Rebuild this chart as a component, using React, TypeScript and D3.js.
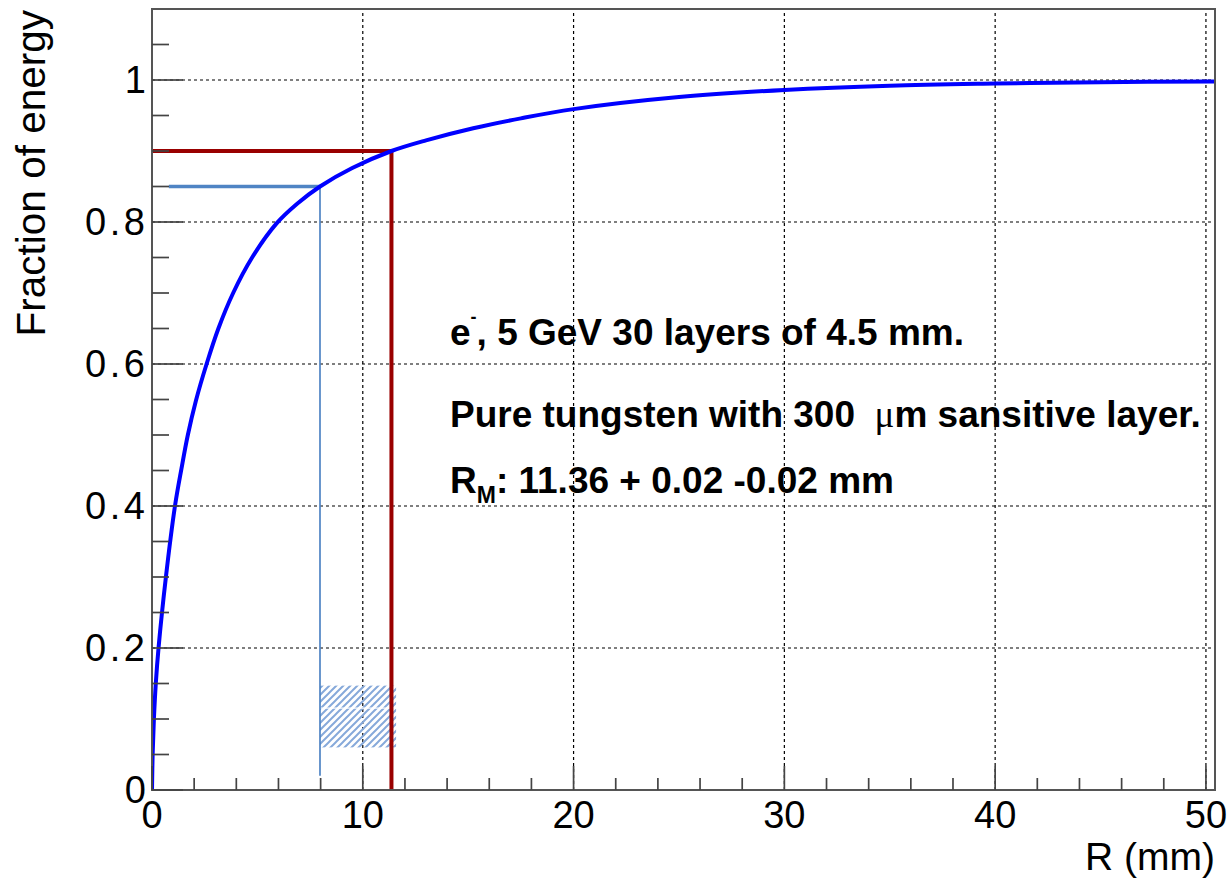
import React from "react";
import * as d3 from "d3";

// Radial energy containment: cumulative fraction of shower energy inside radius R
const radiusMm = [0, 0.03, 0.09, 0.18, 0.31, 0.66, 1.09, 1.4, 1.7, 2.08, 2.59, 3.15, 3.85, 4.75, 5.91, 6.9, 7.97, 9.5, 11.36, 13.0, 15.24, 17.5, 20.0, 25.0, 30.0, 35.0, 40.0, 45.0, 50.43];
const energyFraction = [0, 0.05, 0.1, 0.15, 0.2, 0.3, 0.4, 0.453, 0.5, 0.548, 0.6, 0.65, 0.7, 0.75, 0.798, 0.826, 0.85, 0.876, 0.9, 0.915, 0.932, 0.946, 0.959, 0.976, 0.986, 0.992, 0.995, 0.997, 0.998];

// Moliere radius (90 % containment) and the 85 % reference marker
const moliereRadius = 11.36;
const moliereFraction = 0.9;
const refRadius = 7.97;
const refFraction = 0.85;
const refLineStart = 0.8;
const refLineEnd = 0.02;

// Hatched uncertainty boxes [r0, r1, f0, f1]
const hatchBoxes = [
  [7.97, 11.58, 0.06, 0.1145],
  [7.97, 11.58, 0.1162, 0.147],
];

// Axis ranges and tick labels
const xDomain = [0, 50.43];
const yDomain = [0, 1.1];
const xMajorTicks = [0, 10, 20, 30, 40, 50];
const yMajorTicks = [0, 0.2, 0.4, 0.6, 0.8, 1];
const yTickLabels = ["0", "0.2", "0.4", "0.6", "0.8", "1"];

const FONT = "'Liberation Sans', Arial, Helvetica, sans-serif";

export default function App() {
  const W = 1229;
  const H = 879;
  const left = 152;
  const right = 1215;
  const top = 9;
  const bottom = 790;

  const x = d3.scaleLinear().domain(xDomain).range([left, right]);
  const y = d3.scaleLinear().domain(yDomain).range([bottom, top]);

  const line = d3
    .line<number>()
    .x((_, i) => x(radiusMm[i]))
    .y((d) => y(d))
    .curve(d3.curveCatmullRom.alpha(0.5));
  const curvePath = line(energyFraction) || "";

  const xMinor = d3.range(0, 50.01, 2);
  const yMinor = d3.range(0, 1.1001, 0.05).filter((v) => v < 1.099);
  const isMajorX = (v: number) => Math.abs(v / 10 - Math.round(v / 10)) < 1e-6;
  const isMajorY = (v: number) => Math.abs(v / 0.2 - Math.round(v / 0.2)) < 1e-6;

  const tickColor = "#444";
  const gridDash = "3,3";

  return (
    <svg
      width={W}
      height={H}
      viewBox={`0 0 ${W} ${H}`}
      style={{ position: "absolute", left: 0, top: 0, background: "#fff" }}
    >
      <defs>
        <pattern id="hatch" patternUnits="userSpaceOnUse" width={7} height={7}>
          <path d="M-2,2 L2,-2 M0,7 L7,0 M5,9 L9,5" stroke="#86a9da" strokeWidth={2} />
        </pattern>
        <clipPath id="plotClip">
          <rect x={left} y={top} width={right - left} height={bottom - top} />
        </clipPath>
      </defs>
      <rect x={0} y={0} width={W} height={H} fill="#fff" />

      {/* grid */}
      <g stroke="#000" strokeWidth={1.2} strokeDasharray={gridDash}>
        {xMajorTicks.filter((v) => v > 0).map((v) => (
          <line key={"gx" + v} x1={x(v)} x2={x(v)} y1={bottom} y2={top} />
        ))}
        {yMajorTicks.filter((v) => v > 0).map((v) => (
          <line key={"gy" + v} x1={left} x2={right} y1={y(v)} y2={y(v)} />
        ))}
      </g>

      {/* hatched boxes */}
      {hatchBoxes.map((b, i) => (
        <rect
          key={"hb" + i}
          x={x(b[0])}
          y={y(b[3])}
          width={x(b[1]) - x(b[0])}
          height={y(b[2]) - y(b[3])}
          fill="url(#hatch)"
        />
      ))}

      {/* 85 % reference marker */}
      <line
        x1={x(refLineStart)}
        x2={x(refRadius)}
        y1={y(refFraction)}
        y2={y(refFraction)}
        stroke="#4f84c4"
        strokeWidth={3.3}
      />
      <line
        x1={x(refRadius)}
        x2={x(refRadius)}
        y1={y(refFraction)}
        y2={y(refLineEnd)}
        stroke="#4f84c4"
        strokeWidth={1.7}
      />

      {/* Moliere radius marker */}
      <path
        d={`M${x(0)},${y(moliereFraction)} H${x(moliereRadius)} V${y(0)}`}
        fill="none"
        stroke="#990000"
        strokeWidth={4}
      />

      {/* containment curve */}
      <path
        d={curvePath}
        fill="none"
        stroke="#0000ff"
        strokeWidth={4}
        clipPath="url(#plotClip)"
      />

      {/* frame */}
      <rect
        x={left}
        y={top}
        width={right - left}
        height={bottom - top}
        fill="none"
        stroke="#555"
        strokeWidth={2}
      />

      {/* ticks */}
      <g stroke={tickColor} strokeWidth={1.7}>
        {xMinor.map((v) => (
          <line key={"tx" + v} x1={x(v)} x2={x(v)} y1={bottom} y2={bottom - (isMajorX(v) ? 24 : 12)} />
        ))}
        {yMinor.map((v) => (
          <line key={"ty" + v.toFixed(2)} x1={left} x2={left + (isMajorY(v) ? 31 : 17)} y1={y(v)} y2={y(v)} />
        ))}
      </g>

      {/* tick labels */}
      <g fontFamily={FONT} fontSize={38} fill="#000">
        {xMajorTicks.map((v) => (
          <text key={"lx" + v} x={x(v)} y={828} textAnchor="middle">
            {String(v)}
          </text>
        ))}
        {yMajorTicks.map((v, i) => {
          const label = yTickLabels[i];
          const wide = label.length > 1;
          return (
            <text
              key={"ly" + v}
              x={wide ? 85 : 146}
              y={y(v) + 13}
              textAnchor={wide ? "start" : "end"}
              textLength={wide ? 60 : undefined}
              lengthAdjust={wide ? "spacing" : undefined}
            >
              {label}
            </text>
          );
        })}
      </g>

      {/* axis titles */}
      <text x={1215} y={870} textAnchor="end" fontFamily={FONT} fontSize={39}>
        R (mm)
      </text>
      <text
        transform={`translate(45, ${top + 1}) rotate(-90)`}
        textAnchor="end"
        fontFamily={FONT}
        fontSize={40.5}
      >
        Fraction of energy
      </text>

      {/* annotation */}
      <g fontFamily={FONT} fontSize={37} fontWeight="bold" fill="#000">
        <text x={450} y={345}>
          e<tspan fontSize={18} dy={-22}>-</tspan>
          <tspan dy={22}>, 5 GeV 30 layers of 4.5 mm.</tspan>
        </text>
        <text x={450} y={427}>
          Pure tungsten with 300{" "}
          <tspan fontFamily="'Liberation Serif', 'Times New Roman', serif" fontWeight="normal">
            {"\u00A0\u03BC"}
          </tspan>
          m sansitive layer.
        </text>
        <text x={450} y={493}>
          R<tspan fontSize={23} dy={10}>M</tspan>
          <tspan dy={-10}>: 11.36 + 0.02 -0.02 mm</tspan>
        </text>
      </g>
    </svg>
  );
}
